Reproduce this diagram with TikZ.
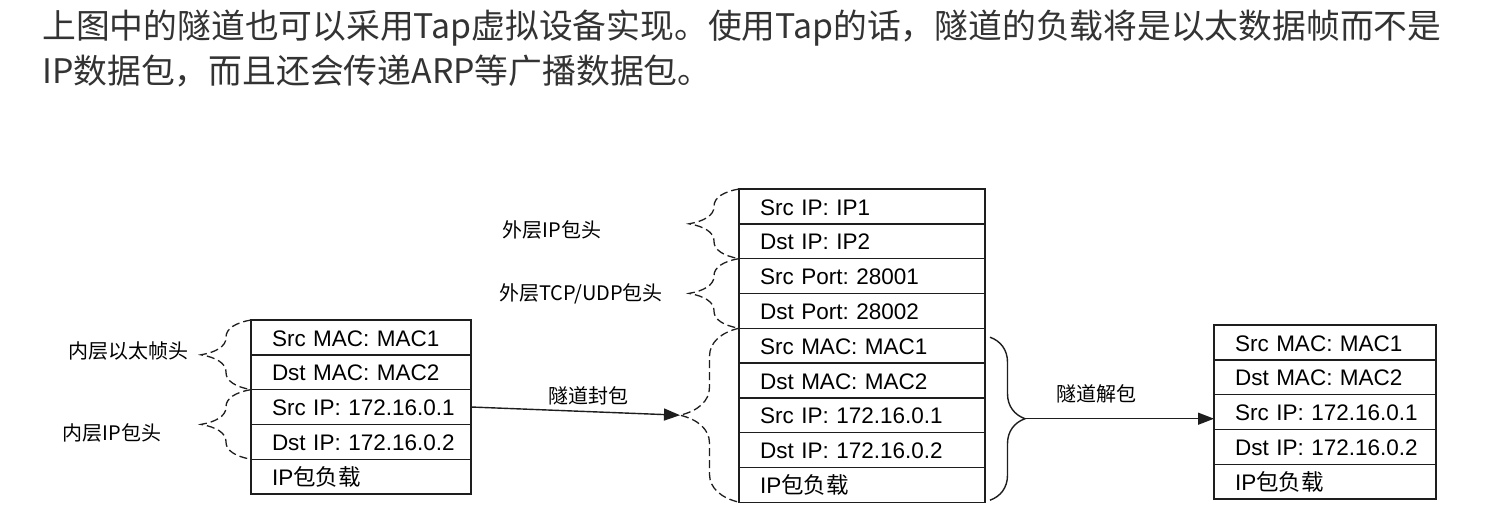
\documentclass[tikz,border=0pt]{standalone}
\usepackage{fontspec}
\setmainfont{Liberation Sans}
\newfontfamily\cjk{Noto Sans CJK SC}
\usetikzlibrary{arrows.meta,positioning,calc}
\definecolor{inkgray}{RGB}{51,51,51}
\definecolor{framegray}{RGB}{30,30,30}

% curly brace beside a stack of rows: [style]{top}{bottom}{depth}{curl}{tip}
\newcommand{\sidebrace}[6][]{%
  \coordinate (#6) at ($(#2)!0.5!(#3)-(#4,0)$);
  \draw[#1] let \p1=(#2), \p2=(#3), \p3=(#6), \n1={#4}, \n2={#5} in
    (\p1) .. controls (\x1-0.3*\n1,\y1-0.15*\n2) and (\x1-0.5*\n1,\y1-0.5*\n2) .. (\x1-0.5*\n1,\y1-\n2)
    -- (\x1-0.5*\n1,\y3+\n2)
    .. controls (\x1-0.5*\n1,\y3+0.5*\n2) and (\x1-0.7*\n1,\y3+0.15*\n2) .. (\p3)
    .. controls (\x1-0.7*\n1,\y3-0.15*\n2) and (\x1-0.5*\n1,\y3-0.5*\n2) .. (\x1-0.5*\n1,\y3-\n2)
    -- (\x1-0.5*\n1,\y2+\n2)
    .. controls (\x1-0.5*\n1,\y2+0.5*\n2) and (\x1-0.3*\n1,\y2+0.15*\n2) .. (\p2);}

\begin{document}
\begin{tikzpicture}[x=1pt,y=-1pt,node distance=0pt,
      row/.style={draw=framegray,line width=1.4pt,outer sep=0pt,inner xsep=0pt,inner ysep=0pt,
        minimum height=34.8pt,text width=#1,align=left,text height=19pt,text depth=1.8pt,
        execute at begin node={\frenchspacing\hspace*{21pt}},font=\fontsize{22.5}{26}\selectfont},
      lbl/.style={inner sep=0pt,font=\cjk\fontsize{20}{24}\selectfont},
      head/.style={inner sep=0pt,anchor=west,text=inkgray,font=\cjk\fontsize{33.8}{40}\selectfont},
      dbr/.style={draw=framegray,line width=1.3pt,dash pattern=on 8pt off 4pt},
      sbr/.style={draw=framegray,line width=1.4pt},
      flow/.style={draw=framegray,line width=1.4pt,-{Triangle[length=16pt,width=12pt]}}]
  \fill[white] (0,0) rectangle (1494,530);
  \useasboundingbox (0,0) rectangle (1494,530);

  \node[head] (line1) at (42,28) {上图中的隧道也可以采用Tap虚拟设备实现。使用Tap的话，隧道的负载将是以太数据帧而不是};
  \node[head] (line2) at (42,71) {IP数据包，而且还会传递ARP等广播数据包。};

  % inner frame before the tunnel
  \node[row=220pt,anchor=north west] (in1) at (251,320) {Src MAC: MAC1};
  \node[row=220pt,below=of in1] (in2) {Dst MAC: MAC2};
  \node[row=220pt,below=of in2] (in3) {Src IP: 172.16.0.1};
  \node[row=220pt,below=of in3] (in4) {Dst IP: 172.16.0.2};
  \node[row=220pt,below=of in4] (in5) {IP{\cjk 包负载}};

  % frame inside the tunnel
  \node[row=246pt,anchor=north west] (tun1) at (739,189) {Src IP: IP1};
  \node[row=246pt,below=of tun1] (tun2) {Dst IP: IP2};
  \node[row=246pt,below=of tun2] (tun3) {Src Port: 28001};
  \node[row=246pt,below=of tun3] (tun4) {Dst Port: 28002};
  \node[row=246pt,below=of tun4] (tun5) {Src MAC: MAC1};
  \node[row=246pt,below=of tun5] (tun6) {Dst MAC: MAC2};
  \node[row=246pt,below=of tun6] (tun7) {Src IP: 172.16.0.1};
  \node[row=246pt,below=of tun7] (tun8) {Dst IP: 172.16.0.2};
  \node[row=246pt,below=of tun8] (tun9) {IP{\cjk 包负载}};

  % frame after the tunnel
  \node[row=222pt,anchor=north west] (out1) at (1214,325) {Src MAC: MAC1};
  \node[row=222pt,below=of out1] (out2) {Dst MAC: MAC2};
  \node[row=222pt,below=of out2] (out3) {Src IP: 172.16.0.1};
  \node[row=222pt,below=of out3] (out4) {Dst IP: 172.16.0.2};
  \node[row=222pt,below=of out4] (out5) {IP{\cjk 包负载}};

  \sidebrace[dbr]{in1.north west}{in2.south west}{50pt}{17pt}{ethTip}
  \sidebrace[dbr]{in3.north west}{in4.south west}{50pt}{17pt}{ipTip}
  \sidebrace[dbr]{tun1.north west}{tun2.south west}{50pt}{17pt}{oipTip}
  \sidebrace[dbr]{tun3.north west}{tun4.south west}{50pt}{17pt}{tcpTip}
  \sidebrace[dbr]{tun5.north west}{tun9.south west}{59pt}{28pt}{encTip}
  \coordinate (decTop) at ($(tun5.north east)+(5pt,-9pt)$);
  \coordinate (decBot) at ($(tun9.south east)+(5pt,2pt)$);
  \sidebrace[sbr]{decTop}{decBot}{-35pt}{25pt}{decTip}

  \node[lbl] (ethLbl) at (128,351) {内层以太帧头};
  \node[lbl] (ipLbl) at (112,433) {内层IP包头};
  \node[lbl] (oipLbl) at (552,230) {外层IP包头};
  \node[lbl] (tcpLbl) at (581,294) {外层TCP/UDP包头};

  \draw[flow] (in3.east) -- node[lbl,above=6pt,pos=0.56] (encLbl) {隧道封包} (encTip);
  \draw[flow] (decTip) -- node[lbl,above=15pt,pos=0.38] (decLbl) {隧道解包} (decTip -| out3.west);
\end{tikzpicture}
\end{document}
